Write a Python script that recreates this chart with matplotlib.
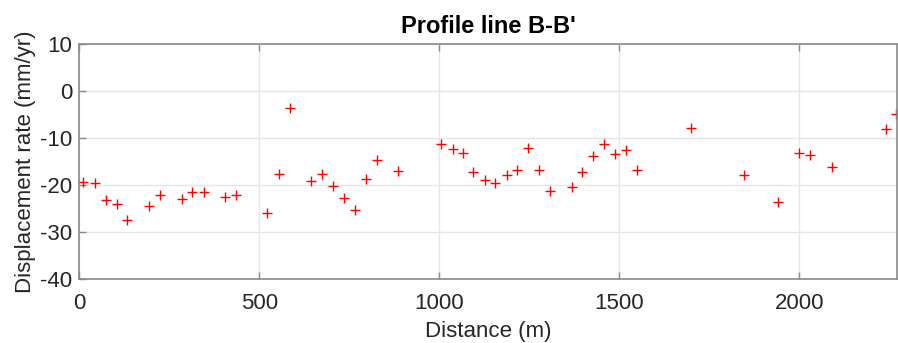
import numpy as np
import matplotlib.pyplot as plt

plt.rcParams['font.family'] = ['Liberation Sans', 'DejaVu Sans']
plt.rcParams['axes.unicode_minus'] = False

# distance along profile (m) and displacement rate (mm/yr)
dist = [12, 44, 74, 105, 134, 194, 226, 285, 315, 346, 405, 435,
        523, 555, 585, 644, 675, 705, 736, 766, 796, 826, 885,
        1006, 1038, 1067, 1094, 1126, 1156, 1187, 1216, 1247, 1276, 1307,
        1368, 1397, 1428, 1457, 1489, 1518, 1549, 1698, 1847, 1941,
        2000, 2029, 2089, 2241, 2269]
rate = [-19.3, -19.5, -23.3, -24.1, -27.4, -24.6, -22.1, -23.1, -21.5, -21.5, -22.6, -22.1,
        -26.0, -17.7, -3.6, -19.1, -17.7, -20.2, -22.7, -25.3, -18.7, -14.7, -17.1,
        -11.2, -12.3, -13.3, -17.3, -18.9, -19.7, -17.9, -16.8, -12.1, -16.8, -21.3,
        -20.4, -17.3, -13.8, -11.3, -13.5, -12.6, -16.9, -8.0, -18.0, -23.7,
        -13.3, -13.7, -16.2, -8.2, -5.0]

xticks = [0, 500, 1000, 1500, 2000]
yticks = [-40, -30, -20, -10, 0, 10]

fig = plt.figure(figsize=(8.98, 3.43), dpi=100)
ax = fig.add_axes([0.088, 0.187, 0.911, 0.685])

ax.plot(dist, rate, '+', color='red', markersize=7, markeredgewidth=1.0)

ax.set_xlim(0, 2271)
ax.set_ylim(-40, 10)
ax.set_xticks(xticks)
ax.set_yticks(yticks)
ax.grid(True, color='#e6e6e6', linewidth=1.0)
ax.set_axisbelow(True)

for s in ax.spines.values():
    s.set_color('#8a8a8a')
    s.set_linewidth(1.2)
ax.tick_params(direction='in', length=5, width=1.0, color='#8a8a8a',
               labelsize=16, labelcolor='#262626', top=True)
ax.tick_params(axis='x', pad=10)
ax.tick_params(axis='y', pad=5)

ax.set_xlabel('Distance (m)', fontsize=16, color='#262626', labelpad=5)
ax.set_ylabel('Displacement rate (mm/yr)', fontsize=16, color='#262626', labelpad=3)
ax.set_title("Profile line B-B'", fontsize=17, fontweight='bold', pad=8)

fig.savefig('out.png', dpi=100)
